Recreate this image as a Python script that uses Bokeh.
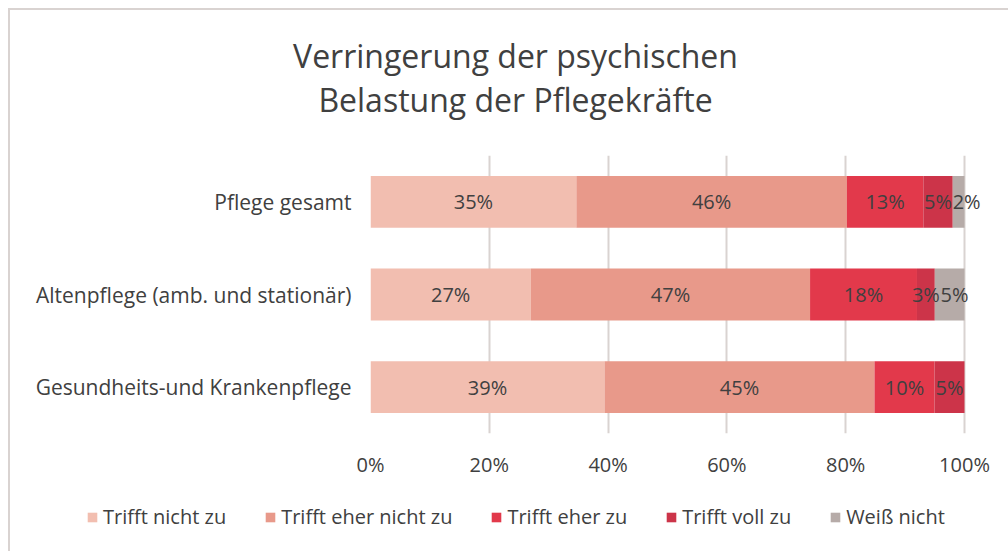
from bokeh.plotting import figure
from bokeh.layouts import column
from bokeh.models import (FactorRange, Range1d, ColumnDataSource, LabelSet, Label, Legend,
                          LegendItem, FixedTicker, NumeralTickFormatter)
from bokeh.core.properties import value
from bokeh.embed import file_html
from bokeh.resources import INLINE

# ---------------- data ----------------
categories = ["Pflege gesamt", "Altenpflege (amb. und stationär)", "Gesundheits-und Krankenpflege"]
series = ["Trifft nicht zu", "Trifft eher nicht zu", "Trifft eher zu", "Trifft voll zu", "Weiß nicht"]
trifft_nicht_zu = [35, 27, 39]
trifft_eher_nicht_zu = [46, 47, 45]
trifft_eher_zu = [13, 18, 10]
trifft_voll_zu = [5, 3, 5]
weiss_nicht = [2, 5, 0]
x_ticks = [0, 0.2, 0.4, 0.6, 0.8, 1.0]
title_lines = ["Verringerung der psychischen", "Belastung der Pflegekräfte"]

colors = ["#F2BEB0", "#E8998A", "#E2394B", "#CC3449", "#B6ABA8"]
FONT = "Open Sans"
TXT = "#404040"
GRID = "#D9D3D1"
LABEL_PX = 20

# ---------------- sizes (pixels) ----------------
W = 998
H_HEAD, H_MAIN, H_LEG = 145, 335, 61
ZERO_PX, FULL_PX, FRAME_RIGHT_PX = 360, 954, 990   # 0 %, 100 %, frame edge (figure px)
px_per_unit = FULL_PX - ZERO_PX
x_end = 1 + (FRAME_RIGHT_PX - FULL_PX) / px_per_unit

values = [trifft_nicht_zu, trifft_eher_nicht_zu, trifft_eher_zu, trifft_voll_zu, weiss_nicht]
keys = ["s0", "s1", "s2", "s3", "s4"]
totals = [sum(v[i] for v in values) for i in range(len(categories))]

data = {"cat": categories}
for k, v in zip(keys, values):
    data[k] = [v[i] / totals[i] for i in range(len(categories))]
source = ColumnDataSource(data)


def text_w(t):
    # approximate rendered width (data units) of a percentage label
    return ((len(t) - 1) * 0.572 + 0.86) * LABEL_PX / px_per_unit


lab_x, lab_y, lab_t = [], [], []
for i, c in enumerate(categories):
    left = 0.0
    prev_x, prev_t = None, None
    for v in values:
        share = v[i] / totals[i]
        if v[i] > 0:
            t = f"{v[i]}%"
            x = left + share / 2
            if prev_x is not None:  # avoid overlapping labels on narrow segments
                x = max(x, prev_x + (text_w(prev_t) + text_w(t)) / 2)
            lab_x.append(x)
            lab_y.append(c)
            lab_t.append(t)
            prev_x, prev_t = x, t
        left += share
lab_src = ColumnDataSource(dict(x=lab_x, y=lab_y, t=lab_t))


def bare(fig):
    fig.xgrid.visible = False
    fig.ygrid.visible = False
    fig.outline_line_color = None
    return fig


# ---------------- header (title) ----------------
head = bare(figure(width=W, height=H_HEAD, x_range=Range1d(0, W), y_range=Range1d(0, H_HEAD),
                   output_backend="svg", toolbar_location=None, title_location=None,
                   x_axis_location=None, y_axis_location=None,
                   min_border=0, frame_align=False))
for txt, yb in zip(title_lines, [100, 56]):
    head.add_layout(Label(x=505, y=yb, text=txt, text_align="center", text_baseline="alphabetic",
                          text_font=FONT, text_font_size="32px", text_color=TXT))

# ---------------- main chart ----------------
p = figure(width=W, height=H_MAIN, y_range=FactorRange(*categories[::-1], range_padding=0),
           x_range=Range1d(0, x_end), output_backend="svg", toolbar_location=None,
           title_location=None, min_border_left=ZERO_PX, min_border_right=W - FRAME_RIGHT_PX,
           min_border_top=0, min_border_bottom=57, frame_align=False)

renderers = p.hbar_stack(keys, y="cat", height=0.56, color=colors, source=source, line_color=None)

p.add_layout(LabelSet(x="x", y="y", text="t", source=lab_src, text_align="center",
                      text_baseline="middle", text_font=value(FONT),
                      text_font_size=f"{LABEL_PX}px", text_color=TXT))

p.xaxis.ticker = FixedTicker(ticks=x_ticks)
p.xaxis.formatter = NumeralTickFormatter(format="0%")
p.xaxis.axis_line_color = None
p.xaxis.major_tick_line_color = None
p.xaxis.minor_tick_line_color = None
p.xaxis.major_label_standoff = 11
p.xaxis.major_label_text_font = FONT
p.xaxis.major_label_text_font_size = "20px"
p.xaxis.major_label_text_color = TXT

p.yaxis.axis_line_color = None
p.yaxis.major_tick_line_color = None
p.yaxis.minor_tick_line_color = None
p.yaxis.major_label_standoff = 13
p.yaxis.major_label_text_font = FONT
p.yaxis.major_label_text_font_size = "21px"
p.yaxis.major_label_text_color = TXT

p.xgrid.ticker = FixedTicker(ticks=x_ticks)
p.xgrid.grid_line_color = GRID
p.xgrid.grid_line_width = 2
p.ygrid.grid_line_color = None
p.outline_line_color = None

# ---------------- legend ----------------
leg = bare(figure(width=W, height=H_LEG, x_range=Range1d(0, 1), y_range=Range1d(0, 1),
                  output_backend="svg", toolbar_location=None, title_location=None,
                  x_axis_location=None, y_axis_location=None, min_border=0, frame_align=False))
# legend keys only: zero-width bars placed outside the visible range
leg_renderers = [leg.hbar(y=[-5], left=[0], right=[0], height=0.5, color=c, line_color=None)
                 for c in colors]
items = [LegendItem(label=s, renderers=[r]) for s, r in zip(series, leg_renderers)]
leg.add_layout(Legend(items=items, orientation="horizontal", location=(76, 21),
                      label_text_font=FONT, label_text_font_size="20px", label_text_color=TXT,
                      glyph_width=12, glyph_height=12, label_standoff=5, spacing=38,
                      border_line_color=None, background_fill_alpha=0, padding=0, margin=0))

layout = column(head, p, leg, spacing=0,
                styles={"margin-left": "8px", "margin-top": "8px",
                        "border-left": "2px solid #d9d3d1", "border-top": "2px solid #d9d3d1"})

open("out.html", "w").write(file_html(layout, INLINE))
